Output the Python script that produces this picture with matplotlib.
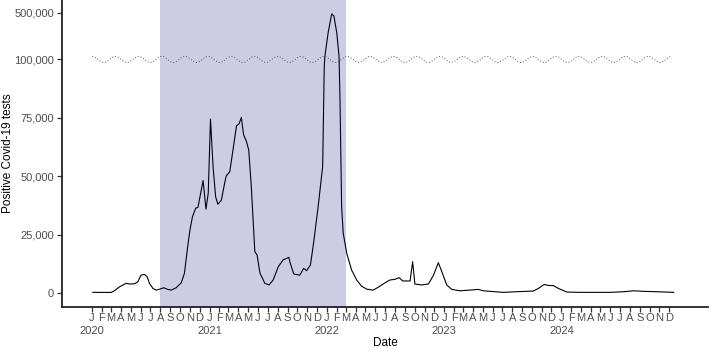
import numpy as np
import pandas as pd
import matplotlib
matplotlib.use("Agg")
import matplotlib.pyplot as plt
import matplotlib.dates as mdates
import matplotlib.transforms as mtransforms

# ---------------- data ----------------
dates = ["2020-01-04","2020-03-01","2020-03-11","2020-03-27","2020-04-17","2020-04-27","2020-05-13",
         "2020-05-23","2020-06-02","2020-06-13","2020-06-21","2020-06-28","2020-07-09","2020-07-19",
         "2020-07-30","2020-08-12","2020-08-24","2020-09-04","2020-09-19","2020-10-05","2020-10-15",
         "2020-10-20","2020-10-26","2020-11-01","2020-11-09","2020-11-19","2020-11-26","2020-12-12",
         "2020-12-21","2020-12-28","2021-01-04","2021-01-12","2021-01-20","2021-01-27","2021-02-07",
         "2021-02-17","2021-02-22","2021-03-05","2021-03-15","2021-03-26","2021-04-03","2021-04-10",
         "2021-04-17","2021-04-26","2021-05-03","2021-05-11","2021-05-22","2021-05-29","2021-06-07",
         "2021-06-15","2021-06-22","2021-07-05","2021-07-18","2021-08-03","2021-08-18","2021-09-05",
         "2021-09-08","2021-09-20","2021-10-09","2021-10-21","2021-10-30","2021-11-11","2021-11-22",
         "2021-12-05","2021-12-19","2021-12-24","2021-12-26","2022-01-05","2022-01-16","2022-01-23",
         "2022-02-01","2022-02-08","2022-02-11","2022-02-16","2022-02-21","2022-03-04","2022-03-19",
         "2022-04-04","2022-04-19","2022-05-05","2022-05-25","2022-06-10","2022-07-01","2022-07-16",
         "2022-08-01","2022-08-14","2022-08-25","2022-09-17","2022-09-25","2022-10-02","2022-10-23",
         "2022-11-13","2022-11-29","2022-12-14","2022-12-25","2023-01-09","2023-01-25","2023-02-19",
         "2023-03-22","2023-04-17","2023-05-03","2023-07-04","2023-08-15","2023-10-06","2023-10-21",
         "2023-11-08","2023-11-21","2023-12-07","2023-12-23","2024-01-18","2024-02-28","2024-06-01",
         "2024-07-13","2024-08-13","2024-09-13","2024-10-25","2024-12-15"]
positives = [430, 400, 1100, 2800, 4300, 4000, 4100,
             5000, 7800, 8100, 7100, 4300, 2100, 1400,
             1800, 2400, 1700, 1400, 2400, 4500, 8600,
             14300, 21000, 27000, 32800, 36400, 36800, 48200,
             36000, 42800, 74500, 54200, 41300, 38100, 39900,
             47100, 50200, 52000, 61300, 71600, 72500, 75200,
             67800, 64900, 61300, 45600, 17800, 16400, 8600,
             6400, 4300, 3600, 5700, 11400, 14300, 15400,
             13500, 8300, 7800, 10700, 9700, 12100, 22800,
             37100, 54200, 97000, 128000, 325800, 489000, 472000,
             325800, 128000, 82700, 37000, 25700, 17100, 10000,
             5700, 3100, 1800, 1400, 2600, 4500, 5700,
             6000, 6700, 5300, 5300, 13500, 4000, 3600,
             4000, 7800, 13100, 9200, 3600, 1700, 1100,
             1400, 1700, 1100, 430, 700, 1000, 2100,
             3800, 3400, 3300, 2100, 560, 430, 430,
             700, 1100, 860, 700, 430]

period_start = "2020-08-01"
period_end = "2022-03-01"

y_ticks = [0, 25000, 50000, 75000, 100000, 500000]
y_tick_labels = ["0", "25,000", "50,000", "75,000", "100,000", "500,000"]
month_letters = ["J", "F", "M", "A", "M", "J", "J", "A", "S", "O", "N", "D"]
years = [2020, 2021, 2022, 2023, 2024]

# ---------------- scale (broken axis above 100,000) ----------------
BREAK = 100000.0
K = 0.05

def fwd(y):
    y = np.asarray(y, dtype=float)
    return np.where(y <= BREAK, y, BREAK + (y - BREAK) * K)

def inv(t):
    t = np.asarray(t, dtype=float)
    return np.where(t <= BREAK, t, BREAK + (t - BREAK) / K)

plt.rcParams['font.family'] = ['Liberation Sans', 'DejaVu Sans']

fig = plt.figure(figsize=(7.09, 3.48), dpi=100)
ax = fig.add_axes([62/709, 1 - 306.7/348, (708-62)/709, 306.7/348])

x = pd.to_datetime(dates)
ax.set_yscale('function', functions=(fwd, inv))
ax.plot(x, positives, color='black', lw=0.8, zorder=2)

ax.axvspan(pd.Timestamp(period_start), pd.Timestamp(period_end),
           color='navy', alpha=0.2, lw=0, zorder=3)

# wavy dotted break marker
xs = pd.date_range(x[0] - pd.Timedelta(days=2), x[-1] - pd.Timedelta(days=6), periods=600)
tt = np.linspace(0, 1, len(xs))
wave_t = fwd(BREAK) + 1300 * np.cos(2 * np.pi * 25 * tt)
ax.plot(xs, inv(wave_t), color='#555555', lw=0.7, ls=(0, (1, 2)), zorder=4)

ax.set_xlim(pd.Timestamp("2019-09-30"), pd.Timestamp("2025-04-01"))
ax.set_ylim(-5700, 608000)

ax.set_yticks(y_ticks)
ax.set_yticklabels(y_tick_labels)

month_pos = pd.date_range(f"{years[0]}-01-01", f"{years[-1]}-12-01", freq="MS")
ax.set_xticks(month_pos)
ax.set_xticklabels([month_letters[d.month - 1] for d in month_pos])
ax.xaxis.set_minor_locator(matplotlib.ticker.NullLocator())
ax.yaxis.set_minor_locator(matplotlib.ticker.NullLocator())

for s in ['top', 'right']:
    ax.spines[s].set_visible(False)
for s in ['left', 'bottom']:
    ax.spines[s].set_linewidth(1.3)
    ax.spines[s].set_color('#222222')

ax.tick_params(axis='both', colors='#333333', labelcolor='#4D4D4D', labelsize=8,
               length=3.6, width=0.9)
ax.tick_params(axis='x', pad=1)
ax.tick_params(axis='y', pad=2)

trans = mtransforms.blended_transform_factory(ax.transData, ax.transAxes)
for yr in years:
    ax.text(pd.Timestamp(f"{yr}-01-01"), (306.7 - 331) / 306.7, str(yr), transform=trans,
            ha='center', va='center', fontsize=8, color='#4D4D4D')

fig.text(385/709, 1 - 343/348, "Date", ha='center', va='center', fontsize=8.5, color='black')
fig.text(8/709, 1 - 153.5/348, "Positive Covid-19 tests", ha='center', va='center',
         rotation=90, fontsize=8.5, color='black')

fig.savefig("out.png", dpi=100)
